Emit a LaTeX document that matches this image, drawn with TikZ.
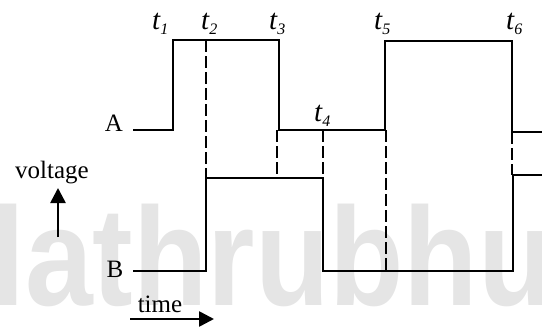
\documentclass[tikz,border=0pt]{standalone}
\usepackage{fontspec}
\setmainfont{Liberation Serif}
\newfontfamily\markfont{Liberation Sans}
\usetikzlibrary{arrows.meta}
\newcommand{\tlab}[1]{\textit{t}\kern-0.5pt\raisebox{-5pt}{\fontsize{16}{16}\selectfont\textit{#1}}}
\begin{document}
\begin{tikzpicture}[x=1pt, y=-1pt,
    signal/.style={line width=2.8pt, line join=miter},
    guide/.style={line width=2.6pt, dash pattern=on 12pt off 4pt},
    word/.style={font=\fontsize{25}{28}\selectfont, inner sep=0pt, anchor=base},
    tlabel/.style={font=\fontsize{29}{30}\selectfont, inner sep=0pt, anchor=base west},
    axisarrow/.style={line width=2.6pt, -{Triangle[length=15pt, width=15pt]}}
]
\useasboundingbox (0,0) rectangle (542,327);
% watermark in the background
\node[inner sep=0pt, anchor=base west, text=black!10, xscale=0.87,
      font=\markfont\bfseries\fontsize{140}{140}\selectfont] (mark) at (-9,305) {lathrubhu};
% signal A
\draw[signal] (133,130) -- (173,130) -- (173,40) -- (279,40) -- (279,130)
    -- (385,130) -- (385,41) -- (512,41) -- (512,132) -- (542,132);
% signal B
\draw[signal] (133,271) -- (206,271) -- (206,178) -- (323,178) -- (323,271)
    -- (513,271) -- (513,175) -- (542,175);
% dashed guides
\draw[guide] (206,40) -- (206,178);
\draw[guide] (277,130) -- (277,178);
\draw[guide] (323,130) -- (323,178);
\draw[guide] (386,130) -- (386,271);
\draw[guide] (512,132) -- (512,175);
% time labels
\foreach \n/\x/\y in {1/152/29, 2/201/29, 3/269/29, 4/314/121, 5/374/29, 6/506/29}
    \node[tlabel] (t\n) at (\x,\y) {\tlab{\n}};
% signal names and axes
\node[word] (A) at (114,131) {A};
\node[word] (B) at (115,277) {B};
\node[word] (volt) at (52,178) {voltage};
\node[word] (time) at (160,312) {time};
\coordinate (v0) at (58,237);
\coordinate (v1) at (58,188);
\coordinate (h0) at (130,319);
\coordinate (h1) at (214,319);
\draw[axisarrow] (v0) -- (v1);
\draw[axisarrow] (h0) -- (h1);
\end{tikzpicture}
\end{document}
